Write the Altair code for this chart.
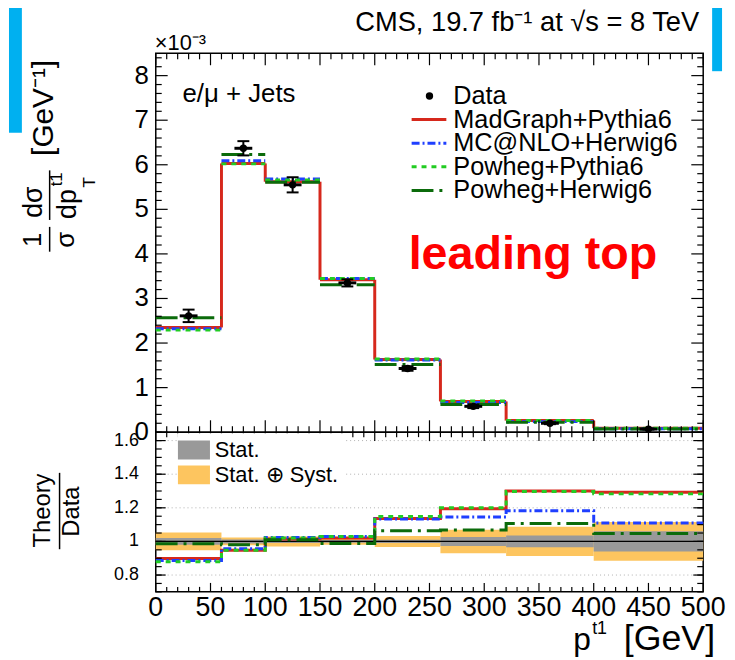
import altair as alt
import pandas as pd

FONT = "Liberation Sans"

# ---------------- values ----------------
edges = [0, 60, 100, 150, 200, 260, 320, 400, 500]          # p_T bin edges [GeV]
data_val = [2.61, 6.37, 5.55, 3.35, 1.43, 0.58, 0.20, 0.07]  # x 1e-3 GeV^-1
data_err = [0.14, 0.16, 0.17, 0.08, 0.05, 0.04, 0.02, 0.01]

models = ["MadGraph+Pythia6", "MC@NLO+Herwig6", "Powheg+Pythia6", "Powheg+Herwig6"]
madgraph_pythia = [2.35, 6.03, 5.62, 3.42, 1.63, 0.69, 0.26, 0.090]
mcnlo_herwig = [2.32, 6.09, 5.68, 3.45, 1.62, 0.665, 0.237, 0.078]
powheg_pythia = [2.29, 6.02, 5.66, 3.45, 1.64, 0.70, 0.26, 0.090]
powheg_herwig = [2.57, 6.23, 5.61, 3.31, 1.52, 0.62, 0.22, 0.073]

ratio_madgraph_pythia = [0.899, 0.947, 1.014, 1.020, 1.137, 1.195, 1.300, 1.293]
ratio_mcnlo_herwig = [0.887, 0.957, 1.023, 1.030, 1.133, 1.146, 1.183, 1.109]
ratio_powheg_pythia = [0.879, 0.947, 1.020, 1.030, 1.148, 1.200, 1.297, 1.283]
ratio_powheg_herwig = [0.986, 0.980, 1.010, 0.988, 1.064, 1.068, 1.107, 1.047]

stat_unc = [0.020, 0.012, 0.010, 0.008, 0.010, 0.027, 0.035, 0.060]
syst_unc = [0.053, 0.023, 0.030, 0.020, 0.033, 0.070, 0.087, 0.115]

band_names = ["Stat.", "Stat. \u2295 Syst."]

x_labels = [0, 50, 100, 150, 200, 250, 300, 350, 400, 450, 500]
y_labels_top = [0, 1, 2, 3, 4, 5, 6, 7, 8]
y_labels_ratio = [0.8, 1.0, 1.2, 1.4, 1.6]
y_text_ratio = ["0.8", "1", "1.2", "1.4", "1.6"]
ratio_grid = [0.8, 1.2, 1.4, 1.6]

# ---------------- style ----------------
colors = ["#d6281c", "#1f3fff", "#22cc22", "#0b6b0b"]
dashes = [[1, 0], [8, 3, 2, 3], [5, 5], [22, 6, 3, 6]]
W, HT, HR = 552, 382, 161

xs = alt.Scale(domain=[0, 500], nice=False, zero=False)
ys_top = alt.Scale(domain=[0, 8.5], nice=False, zero=False)
ys_r = alt.Scale(domain=[0.7, 1.65], nice=False, zero=False)

one = pd.DataFrame({"k": [0]})


def txt(s, x, y, size, angle=None, align="center", baseline="middle", color="black", weight="normal"):
    kw = dict(font=FONT, fontSize=size, align=align, baseline=baseline, color=color, fontWeight=weight)
    if angle is not None:
        kw["angle"] = angle
    return alt.Chart(one).mark_text(**kw).encode(x=alt.value(x), y=alt.value(y), text=alt.value(s))


def vbar(x, y1, y2, w=1.5):
    return alt.Chart(one).mark_rule(color="black", strokeWidth=w).encode(
        x=alt.value(x), y=alt.value(y1), y2=alt.value(y2))


def hseg(x1, x2, y, color, dash, w=3):
    return alt.Chart(one).mark_rule(color=color, strokeDash=dash, strokeWidth=w).encode(
        x=alt.value(x1), x2=alt.value(x2), y=alt.value(y))


def box(x1, x2, y1, y2, color):
    return alt.Chart(one).mark_rect(color=color).encode(
        x=alt.value(x1), x2=alt.value(x2), y=alt.value(y1), y2=alt.value(y2))


def ticks_x(vals, length, H):
    df = pd.DataFrame({"t": vals})
    base = alt.Chart(df).mark_rule(color="black", strokeWidth=1.2)
    return [
        base.encode(x=alt.X("t:Q", scale=xs, axis=None), y=alt.value(H), y2=alt.value(H - length)),
        base.encode(x=alt.X("t:Q", scale=xs, axis=None), y=alt.value(0), y2=alt.value(length)),
    ]


def ticks_y(vals, length, ys):
    df = pd.DataFrame({"t": vals})
    base = alt.Chart(df).mark_rule(color="black", strokeWidth=1.2)
    return [
        base.encode(y=alt.Y("t:Q", scale=ys, axis=None), x=alt.value(0), x2=alt.value(length)),
        base.encode(y=alt.Y("t:Q", scale=ys, axis=None), x=alt.value(W), x2=alt.value(W - length)),
    ]


def ylabels(vals, texts, ys, x, size):
    df = pd.DataFrame({"t": vals, "s": texts})
    return alt.Chart(df).mark_text(font=FONT, fontSize=size, align="right", baseline="middle",
                                   color="black").encode(
        y=alt.Y("t:Q", scale=ys, axis=None), x=alt.value(x), text="s:N")


def xlabels(vals, y, size):
    df = pd.DataFrame({"t": vals, "s": [str(v) for v in vals]})
    return alt.Chart(df).mark_text(font=FONT, fontSize=size, align="center", baseline="top",
                                   color="black").encode(
        x=alt.X("t:Q", scale=xs, axis=None), y=alt.value(y), text="s:N")


x_major = x_labels
x_minor = [v for v in range(0, 501, 10) if v % 50 != 0]
y_major_top = y_labels_top
y_minor_top = [round(0.2 * i, 2) for i in range(43) if i % 5 != 0]
y_major_r = y_labels_ratio
y_minor_r = [round(0.7 + 0.05 * i, 2) for i in range(20)]

# ---------------- top panel ----------------
centers = [(edges[i] + edges[i + 1]) / 2 for i in range(8)]
pts = pd.DataFrame({
    "c": centers, "v": data_val,
    "lo": [v - e for v, e in zip(data_val, data_err)],
    "hi": [v + e for v, e in zip(data_val, data_err)],
})

rows = []
for m, vals in zip(models, [madgraph_pythia, mcnlo_herwig, powheg_pythia, powheg_herwig]):
    for i in range(8):
        rows.append({"model": m, "lo": edges[i], "hi": edges[i + 1], "v": vals[i]})
mc_df = pd.DataFrame(rows)

mc_top = alt.Chart(mc_df).mark_rule(strokeWidth=3).encode(
    x=alt.X("lo:Q", scale=xs, axis=None), x2="hi:Q",
    y=alt.Y("v:Q", scale=ys_top, axis=None),
    color=alt.Color("model:N", scale=alt.Scale(domain=models, range=colors), legend=None),
    strokeDash=alt.StrokeDash("model:N", scale=alt.Scale(domain=models, range=dashes), legend=None),
)

red_v = alt.Chart(pd.DataFrame({"x": edges[1:-1], "y1": madgraph_pythia[:-1], "y2": madgraph_pythia[1:]})
                  ).mark_rule(color=colors[0], strokeWidth=3).encode(
    x=alt.X("x:Q", scale=xs, axis=None), y=alt.Y("y1:Q", scale=ys_top, axis=None), y2="y2:Q")

err_v = alt.Chart(pts).mark_rule(color="black", strokeWidth=2).encode(
    x=alt.X("c:Q", scale=xs, axis=None), y=alt.Y("lo:Q", scale=ys_top, axis=None), y2="hi:Q")
cap_hi = alt.Chart(pts).mark_tick(color="black", orient="horizontal", size=12, thickness=2, opacity=1).encode(
    x=alt.X("c:Q", scale=xs, axis=None), y=alt.Y("hi:Q", scale=ys_top, axis=None))
cap_lo = alt.Chart(pts).mark_tick(color="black", orient="horizontal", size=12, thickness=2, opacity=1).encode(
    x=alt.X("c:Q", scale=xs, axis=None), y=alt.Y("lo:Q", scale=ys_top, axis=None))
hbar = alt.Chart(pts).mark_tick(color="black", orient="horizontal", size=18, thickness=3, opacity=1).encode(
    x=alt.X("c:Q", scale=xs, axis=None), y=alt.Y("v:Q", scale=ys_top, axis=None))
points = alt.Chart(pts).mark_point(filled=True, size=55, color="black", opacity=1).encode(
    x=alt.X("c:Q", scale=xs, axis=None), y=alt.Y("v:Q", scale=ys_top, axis=None))

# legend (drawn in pixel space of the top panel)
LEG_Y0, LEG_DY = 43, 23.8
legend_layers = [
    alt.Chart(one).mark_point(filled=True, size=55, color="black", opacity=1).encode(
        x=alt.value(276), y=alt.value(LEG_Y0)),
    txt("Data", 300, LEG_Y0, 25.5, align="left"),
]
for i, (m, c, d) in enumerate(zip(models, colors, dashes)):
    yy = LEG_Y0 + LEG_DY * (i + 1)
    legend_layers.append(hseg(258, 293, yy, c, d))
    legend_layers.append(txt(m, 300, yy, 25.5, align="left"))

# cyan slide decoration; its top (-50) is the top-most item, which fixes the layout
top_layers = [
    box(-148, -135, -50, 80, "#00b0f0"),
    box(561, 571, -50, 18, "#00b0f0"),
    red_v, mc_top, err_v, cap_hi, cap_lo, hbar, points,
]
top_layers += ticks_x(x_major, 12, HT) + ticks_x(x_minor, 6, HT)
top_layers += ticks_y(y_major_top, 12, ys_top) + ticks_y(y_minor_top, 6, ys_top)
top_layers += legend_layers
top_layers += [
    ylabels(y_labels_top, [str(v) for v in y_labels_top], ys_top, -7, 26),
    txt("CMS, 19.7 fb\u207b\u00b9 at \u221as = 8 TeV", 548, -31, 27.5, align="right"),
    txt("\u00d710\u207b\u00b3", -1, -10, 22, align="left"),
    txt("e/\u03bc + Jets", 27, 41, 26, align="left"),
    txt("leading top", 255, 217, 47, align="left", baseline="alphabetic", color="#ff0000", weight="bold"),
    # y title: 1/sigma dsigma/dp_T [GeV^-1]
    txt("1", -124, 188, 26, angle=270),
    vbar(-107, 175, 200),
    txt("\u03c3", -90, 188, 26, angle=270),
    txt("d\u03c3", -123, 150, 27, angle=270),
    vbar(-107, 118, 168),
    txt("dp", -88, 152, 27, angle=270),
    txt("T", -66, 130, 17, angle=270),
    txt("t1", -100, 127, 17, angle=270),
    txt("[GeV\u207b\u00b9]", -113, 55, 30, angle=270),
]
top = alt.layer(*top_layers).properties(width=W, height=HT)

# ---------------- ratio panel ----------------
brows = []
for i in range(8):
    brows.append({"band": band_names[1], "lo": edges[i], "hi": edges[i + 1],
                  "y1": 1 - syst_unc[i], "y2": 1 + syst_unc[i]})
for i in range(8):
    brows.append({"band": band_names[0], "lo": edges[i], "hi": edges[i + 1],
                  "y1": 1 - stat_unc[i], "y2": 1 + stat_unc[i]})
band_df = pd.DataFrame(brows)

# legends with orient "none" are placed relative to the top panel's origin
leg_band = alt.Legend(orient="none", legendX=21.5, legendY=HT + 1, title=None,
                      symbolType="M-1.7,-1H1.7V1H-1.7Z", symbolSize=361, symbolStrokeWidth=0,
                      labelFont=FONT, labelFontSize=22, labelOffset=10, rowPadding=3,
                      padding=6, fillColor="white", symbolOpacity=1, labelColor="black",
                      labelLimit=500)

bands = alt.Chart(band_df).mark_rect().encode(
    x=alt.X("lo:Q", scale=xs, axis=None), x2="hi:Q",
    y=alt.Y("y1:Q", scale=ys_r, axis=None), y2="y2:Q",
    fill=alt.Fill("band:N", scale=alt.Scale(domain=band_names, range=["#999999", "#fdc55f"]), legend=leg_band),
)

grid = alt.Chart(pd.DataFrame({"g": ratio_grid})).mark_rule(
    color="#b0b0b0", strokeDash=[1, 3], strokeWidth=1).encode(
    y=alt.Y("g:Q", scale=ys_r, axis=None), x=alt.value(0), x2=alt.value(W))
unity = alt.Chart(pd.DataFrame({"g": [1.0]})).mark_rule(color="black", strokeWidth=1.2).encode(
    y=alt.Y("g:Q", scale=ys_r, axis=None), x=alt.value(0), x2=alt.value(W))

ratio_layers = [bands, grid, unity]
for ratios, c, d in zip([ratio_madgraph_pythia, ratio_mcnlo_herwig, ratio_powheg_pythia, ratio_powheg_herwig],
                        colors, dashes):
    df = pd.DataFrame({"x": edges, "r": ratios + [ratios[-1]]})
    ratio_layers.append(
        alt.Chart(df).mark_line(interpolate="step-after", color=c, strokeDash=d, strokeWidth=3).encode(
            x=alt.X("x:Q", scale=xs, axis=None), y=alt.Y("r:Q", scale=ys_r, axis=None)))

ratio_layers += ticks_x(x_major, 9, HR) + ticks_x(x_minor, 5, HR)
ratio_layers += ticks_y(y_major_r, 10, ys_r) + ticks_y(y_minor_r, 6, ys_r)
ratio_layers += [
    ylabels(y_labels_ratio, y_text_ratio, ys_r, -17, 18),
    xlabels(x_labels, HR + 3, 27),
    txt("Theory", -114, 79, 24, angle=270),
    vbar(-97, 41, 118),
    txt("Data", -84, 80, 24, angle=270),
    txt("p", 421, 220, 32, align="left", baseline="alphabetic"),
    txt("t1", 440, 203, 18, align="left", baseline="alphabetic"),
    txt("[GeV]", 564, 220, 36, align="right", baseline="alphabetic"),
]
ratio = alt.layer(*ratio_layers).properties(width=W, height=HR)

chart = alt.vconcat(top, ratio, spacing=0, bounds="flush").properties(
    padding={"left": 0, "top": -8, "right": 0, "bottom": 0},
    background="white",
).configure_view(stroke="black", strokeWidth=1.5)

chart.save("out.html", embed_options={"renderer": "svg", "actions": False})
